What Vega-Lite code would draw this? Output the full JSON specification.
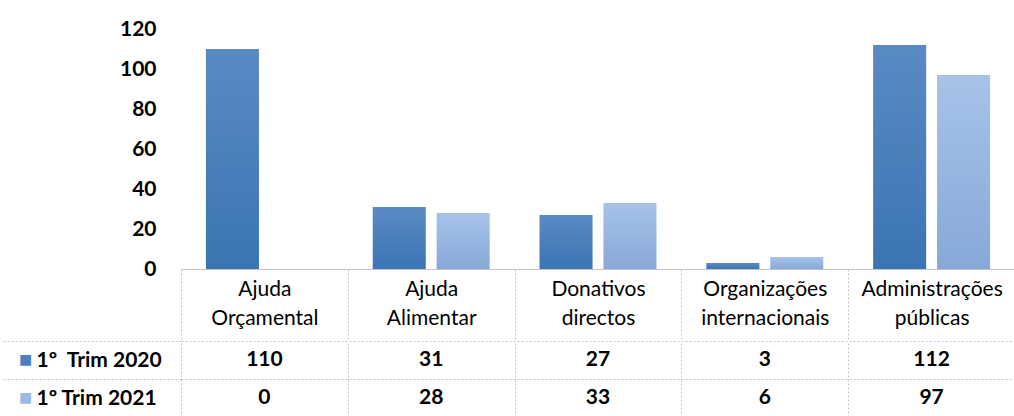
{
  "$schema": "https://vega.github.io/schema/vega-lite/v6.json",
  "padding": {"left": 0, "top": 18, "right": 0, "bottom": 0},
  "background": "white",
  "spacing": 72,
  "bounds": "flush",
  "config": {
    "view": {"stroke": null},
    "font": "Lato"
  },
  "datasets": {
    "d": [
      {"categoria": "Ajuda Orçamental", "serie": "1º\u00a0 Trim 2020", "valor": 110},
      {"categoria": "Ajuda Orçamental", "serie": "1º Trim 2021", "valor": 0},
      {"categoria": "Ajuda Alimentar", "serie": "1º\u00a0 Trim 2020", "valor": 31},
      {"categoria": "Ajuda Alimentar", "serie": "1º Trim 2021", "valor": 28},
      {"categoria": "Donativos directos", "serie": "1º\u00a0 Trim 2020", "valor": 27},
      {"categoria": "Donativos directos", "serie": "1º Trim 2021", "valor": 33},
      {"categoria": "Organizações internacionais", "serie": "1º\u00a0 Trim 2020", "valor": 3},
      {"categoria": "Organizações internacionais", "serie": "1º Trim 2021", "valor": 6},
      {"categoria": "Administrações públicas", "serie": "1º\u00a0 Trim 2020", "valor": 112},
      {"categoria": "Administrações públicas", "serie": "1º Trim 2021", "valor": 97}
    ]
  },
  "vconcat": [
    {
      "width": 834,
      "height": 240,
      "data": {"name": "d"},
      "encoding": {
        "x": {
          "field": "categoria", "type": "nominal",
          "sort": ["Ajuda Orçamental", "Ajuda Alimentar", "Donativos directos", "Organizações internacionais", "Administrações públicas"],
          "scale": {"type": "band", "paddingInner": 0, "paddingOuter": 0},
          "axis": {
            "title": null, "labelAngle": 0,
            "labelExpr": "split(datum.label, ' ')",
            "labelFont": "Lato", "labelFontSize": 21, "labelFontWeight": "normal", "labelColor": "#000000",
            "labelBaseline": "top", "labelLineHeight": 29, "labelPadding": -63,
            "labelOverlap": false, "labelFlush": false, "labelBound": false, "labelLimit": 0,
            "tickBand": "extent", "ticks": true, "tickSize": 72, "tickColor": "#c4c4c4", "tickDash": [2, 2], "tickWidth": 1,
            "domain": true, "domainColor": "#c4c4c4", "domainWidth": 1,
            "grid": false
          }
        },
        "xOffset": {
          "field": "serie", "type": "nominal",
          "scale": {"domain": ["1º\u00a0 Trim 2020", "1º Trim 2021"], "paddingInner": 0.17, "paddingOuter": 0.39}
        },
        "y": {
          "field": "valor", "type": "quantitative",
          "scale": {"domain": [0, 120], "nice": false},
          "axis": {
            "title": null, "values": [0, 20, 40, 60, 80, 100, 120],
            "labelFont": "Lato", "labelFontSize": 21, "labelFontWeight": "bold", "labelColor": "#000000",
            "labelPadding": 25, "ticks": false, "domain": false, "grid": false
          }
        }
      },
      "layer": [
        {
          "transform": [{"filter": "datum.serie === '1º\u00a0 Trim 2020'"}],
          "mark": {
            "type": "bar",
            "color": {"gradient": "linear", "x1": 0, "y1": 0, "x2": 0, "y2": 1,
              "stops": [{"offset": 0, "color": "#5a8ac4"}, {"offset": 1, "color": "#3b74b4"}]}
          }
        },
        {
          "transform": [{"filter": "datum.serie === '1º Trim 2021'"}],
          "mark": {
            "type": "bar",
            "color": {"gradient": "linear", "x1": 0, "y1": 0, "x2": 0, "y2": 1,
              "stops": [{"offset": 0, "color": "#a6c3e9"}, {"offset": 1, "color": "#87a9d8"}]}
          }
        }
      ]
    },
    {
      "width": 834,
      "height": 76,
      "data": {"name": "d"},
      "layer": [
        {
          "mark": {"type": "text", "font": "Lato", "fontSize": 21, "fontWeight": "bold", "color": "#000000"},
          "encoding": {
            "x": {
              "field": "categoria", "type": "nominal",
              "sort": ["Ajuda Orçamental", "Ajuda Alimentar", "Donativos directos", "Organizações internacionais", "Administrações públicas"],
              "scale": {"type": "band", "paddingInner": 0, "paddingOuter": 0},
              "axis": {
                "title": null, "labels": false, "ticks": false, "domain": false,
                "grid": true, "tickBand": "extent", "gridColor": "#c4c4c4", "gridDash": [2, 2], "gridWidth": 1
              }
            },
            "y": {
              "field": "serie", "type": "nominal",
              "sort": ["1º\u00a0 Trim 2020", "1º Trim 2021"],
              "scale": {"type": "band", "paddingInner": 0, "paddingOuter": 0},
              "axis": {
                "title": null, "orient": "left",
                "labelFont": "Lato", "labelFontSize": 21, "labelFontWeight": "bold", "labelColor": "#000000",
                "labelAlign": "left", "labelPadding": -35,
                "ticks": true, "tickBand": "extent", "tickSize": 180, "tickColor": "#c4c4c4", "tickDash": [2, 2],
                "grid": true, "gridColor": "#c4c4c4", "gridDash": [2, 2],
                "domain": false
              }
            },
            "text": {"field": "valor", "type": "quantitative"}
          }
        },
        {
          "mark": {"type": "text", "opacity": 0},
          "encoding": {
            "x": {
              "field": "categoria", "type": "nominal",
              "sort": ["Ajuda Orçamental", "Ajuda Alimentar", "Donativos directos", "Organizações internacionais", "Administrações públicas"]
            },
            "y": {
              "field": "serie", "type": "nominal",
              "sort": ["1º\u00a0 Trim 2020", "1º Trim 2021"],
              "axis": {
                "title": null, "orient": "left",
                "labelExpr": "'■'",
                "labelFont": "DejaVu Sans",
                "labelFontSize": 14, "labelAlign": "center", "labelPadding": 156,
                "labelColor": {"condition": {"test": "datum.value === '1º\u00a0 Trim 2020'", "value": "#4a80bf"}, "value": "#98bae4"},
                "ticks": false, "tickSize": 0, "grid": false, "domain": false
              }
            }
          }
        }
      ],
      "resolve": {"axis": {"y": "independent"}}
    }
  ]
}
